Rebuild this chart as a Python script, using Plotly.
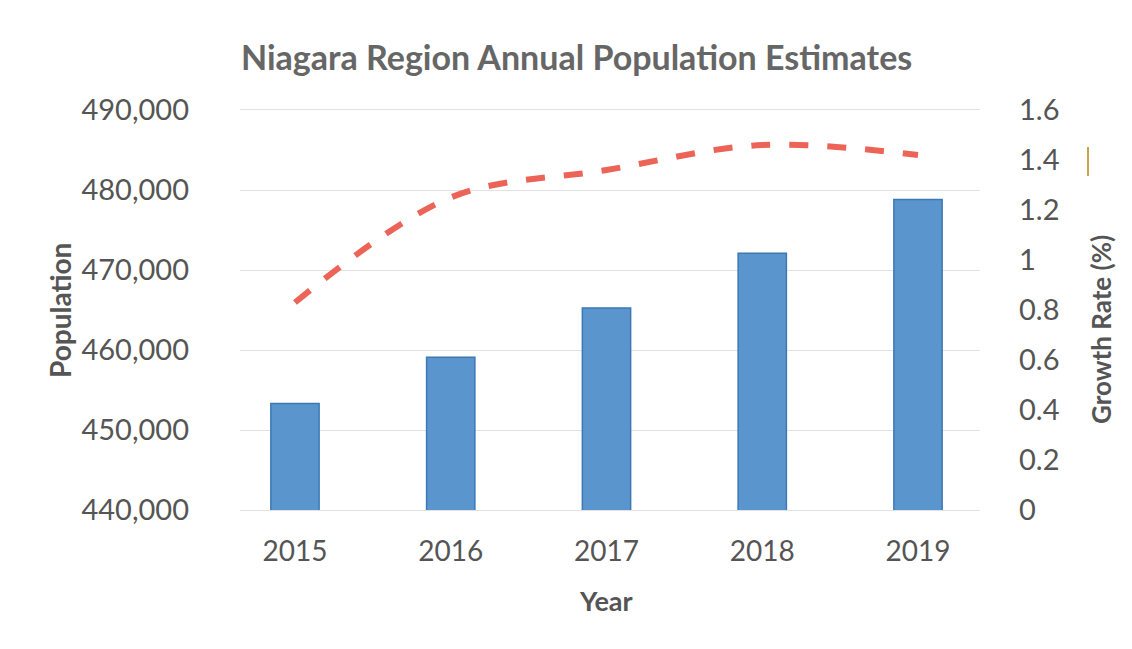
import plotly.graph_objects as go

# Annual estimates for the Niagara Region
years = ["2015", "2016", "2017", "2018", "2019"]
population = [453300, 459100, 465250, 472100, 478800]
growth_rate = [0.83, 1.25, 1.36, 1.46, 1.42]

pop_ticks = [440000, 450000, 460000, 470000, 480000, 490000]
rate_ticks = [0, 0.2, 0.4, 0.6, 0.8, 1, 1.2, 1.4, 1.6]
rate_tick_text = ["0", "0.2", "0.4", "0.6", "0.8", "1", "1.2", "1.4", "1.6"]

FONT = "Lato"
TEXT = "#555555"
GRID = "#E2E2E2"

# plot area in pixels: x 240..980, y 110..510
PL, PR, PT, PB = 240, 980, 110, 510


def px_x(x):
    return (x - PL) / (PR - PL)


def px_y(y):
    return (PB - y) / (PB - PT)


fig = go.Figure()

fig.add_trace(go.Bar(
    x=years, y=population, width=0.31,
    marker=dict(color="#5A95CD", line=dict(color="#3C79B4", width=1.5)),
    yaxis="y", name="Population",
))

fig.add_trace(go.Scatter(
    x=years, y=growth_rate, mode="lines", yaxis="y2",
    line=dict(color="#EC6457", width=6, dash="19px,19px", shape="spline", smoothing=1.0),
    name="Growth Rate",
))

fig.update_layout(
    width=1132, height=649,
    margin=dict(l=PL, r=1132 - PR, t=PT, b=649 - PB),
    paper_bgcolor="white", plot_bgcolor="white",
    showlegend=False,
    font=dict(family=FONT, color=TEXT),
    xaxis=dict(
        type="category", range=[-0.353, 4.398],
        showgrid=False, zeroline=False, ticks="",
        showline=True, mirror=True, linecolor=GRID, linewidth=1,
        tickfont=dict(size=28, color=TEXT),
        ticklabelstandoff=16,
    ),
    yaxis=dict(
        range=[440000, 490000], tickvals=pop_ticks, tickformat=",d",
        showgrid=True, gridcolor=GRID, gridwidth=1,
        zeroline=False, showline=False, ticks="",
        tickfont=dict(size=29, color=TEXT),
        ticklabelstandoff=50,
    ),
    yaxis2=dict(
        range=[0, 1.6], tickvals=rate_ticks, ticktext=rate_tick_text,
        overlaying="y", side="right",
        showgrid=False, zeroline=False, showline=False, ticks="",
        tickfont=dict(size=29, color=TEXT),
        ticklabelstandoff=38,
    ),
    annotations=[
        dict(text="<b>Niagara Region Annual Population Estimates</b>",
             x=px_x(576), y=px_y(56), xref="paper", yref="paper",
             xanchor="center", yanchor="middle", showarrow=False,
             font=dict(size=34, color="#666666")),
        dict(text="<b>Population</b>", textangle=-90, showarrow=False,
             xref="paper", yref="paper", x=px_x(60), y=px_y(311),
             xanchor="center", yanchor="middle",
             font=dict(size=28, color=TEXT)),
        dict(text="<b>Growth Rate (%)</b>", textangle=-90, showarrow=False,
             xref="paper", yref="paper", x=px_x(1101), y=px_y(330),
             xanchor="center", yanchor="middle",
             font=dict(size=26, color=TEXT)),
        dict(text="<b>Year</b>", showarrow=False,
             xref="paper", yref="paper", x=px_x(606), y=px_y(600),
             xanchor="center", yanchor="middle",
             font=dict(size=27, color=TEXT)),
    ],
    shapes=[
        dict(type="line", xref="paper", yref="paper",
             x0=px_x(1088), x1=px_x(1088), y0=px_y(176), y1=px_y(147),
             line=dict(color="#C9A24A", width=2)),
    ],
)

fig.write_html("out.html")
